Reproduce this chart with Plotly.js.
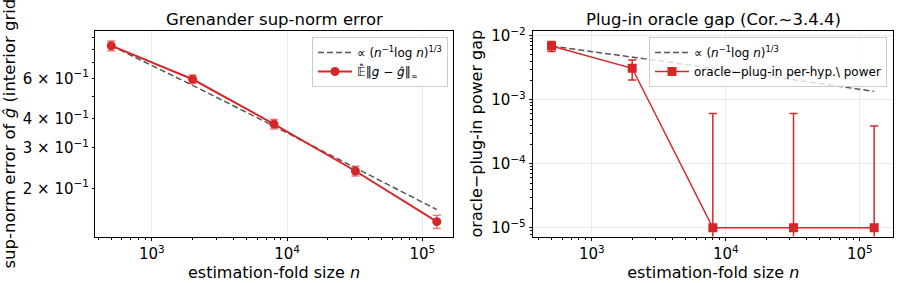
<!DOCTYPE html>
<html>
<head>
<meta charset="utf-8">
<script src="https://cdn.plot.ly/plotly-3.0.1.min.js"></script>
<style>html,body{margin:0;padding:0;background:#fff;}#chart{width:900px;height:283px;}</style>
</head>
<body>
<div id="chart"></div>
<script>
// ---- data ----
const n = [500, 2000, 8000, 32000, 128000];
const supErr = [0.830, 0.594, 0.380, 0.238, 0.1436];
const supErrSd = [0.040, 0.025, 0.018, 0.0115, 0.0095];
const supRef = [0.830, 0.559, 0.372, 0.246, 0.162];
const gap = [0.0069, 0.0031, 1e-5, 1e-5, 1e-5];
const gapSd = [0.00125, 0.00107, 0.00060, 0.00060, 0.00038];
const gapRef = [0.0069, 0.00465, 0.0031, 0.00205, 0.00135];
const xMajor = [1e3, 1e4, 1e5];
const xMajorText = ['10<sup>3</sup>', '10<sup>4</sup>', '10<sup>5</sup>'];
const y1Ticks = [0.2, 0.3, 0.4, 0.5, 0.6, 0.7, 0.8, 0.9];
const y1Text = ['2 × 10<sup>−1</sup>', '3 × 10<sup>−1</sup>', '4 × 10<sup>−1</sup>', '', '6 × 10<sup>−1</sup>', '', '', ''];
const y2Major = [1e-5, 1e-4, 1e-3, 1e-2];
const y2Text = ['10<sup>−5</sup>', '10<sup>−4</sup>', '10<sup>−3</sup>', '10<sup>−2</sup>'];
const refLabel = '∝ (<i>n</i><sup>−1</sup>log <i>n</i>)<sup>1/3</sup>';
const supLabel = '𝔼̂‖<i>g</i> − <i>ĝ</i>‖<sub>∞</sub>';
const gapLabel = 'oracle−plug-in per-hyp.\\ power';

const RED = '#d62728';
const FONT = 'DejaVu Sans, sans-serif';

// minor tick positions (2..9 x 10^k)
function minorVals(lo, hi) {
  const out = [];
  for (let e = lo; e <= hi; e++) for (let d = 2; d <= 9; d++) out.push(d * Math.pow(10, e));
  return out;
}

const traces = [
  {x: n, y: supRef, xaxis: 'x', yaxis: 'y', mode: 'lines', name: refLabel,
   line: {color: '#555555', width: 1.5, dash: '6px,3px'}, legend: 'legend'},
  {x: n, y: supErr, xaxis: 'x', yaxis: 'y', mode: 'lines+markers', name: supLabel,
   line: {color: RED, width: 2}, marker: {color: RED, size: 9, symbol: 'circle'},
   error_y: {type: 'data', array: supErrSd, visible: true, color: 'rgba(214,39,40,0.6)', thickness: 1.5, width: 4},
   legend: 'legend'},
  {x: n, y: gapRef, xaxis: 'x2', yaxis: 'y2', mode: 'lines', name: refLabel,
   line: {color: '#555555', width: 1.5, dash: '6px,3px'}, legend: 'legend2'},
  {x: n, y: gap, xaxis: 'x2', yaxis: 'y2', mode: 'lines+markers', name: gapLabel,
   line: {color: RED, width: 1.5}, marker: {color: RED, size: 9, symbol: 'square'},
   error_y: {type: 'data', array: gapSd, visible: true, color: RED, thickness: 1.5, width: 4},
   legend: 'legend2'}
];

const axCommon = {
  type: 'log', showline: true, linecolor: '#000', linewidth: 1, mirror: true,
  ticks: 'outside', ticklen: 3.5, tickwidth: 1, tickcolor: '#000',
  tickfont: {family: FONT, size: 15, color: '#000'}, zeroline: false,
  gridcolor: '#ebebeb', gridwidth: 1
};

const yTop = (283 - 30.7) / 283, yBot = (283 - 236.5) / 283;

const layout = {
  width: 900, height: 283, margin: {l: 0, r: 0, t: 0, b: 0},
  paper_bgcolor: '#fff', plot_bgcolor: '#fff',
  font: {family: FONT, color: '#000'},
  xaxis: Object.assign({}, axCommon, {
    domain: [95 / 900, 453 / 900], anchor: 'y', range: [2.579, 5.227],
    tickmode: 'array', tickvals: xMajor, ticktext: xMajorText, showgrid: true,
    minor: {tickmode: 'array', tickvals: minorVals(2, 5), ticks: 'outside', ticklen: 2, tickcolor: '#000', showgrid: false},
    title: {text: 'estimation-fold size <i>n</i>', font: {family: FONT, size: 16}, standoff: 2}
  }),
  yaxis: Object.assign({}, axCommon, {
    domain: [yBot, yTop], anchor: 'x', range: [-0.907, -0.016],
    tickmode: 'array', tickvals: y1Ticks, ticktext: y1Text, ticklen: 2, showgrid: false,
    title: {text: 'sup-norm error of <i>ĝ</i> (interior grid', font: {family: FONT, size: 16.5}, standoff: 2}
  }),
  xaxis2: Object.assign({}, axCommon, {
    domain: [533.3 / 900, 893.3 / 900], anchor: 'y2', range: [2.563, 5.25],
    tickmode: 'array', tickvals: xMajor, ticktext: xMajorText, showgrid: true,
    minor: {tickmode: 'array', tickvals: minorVals(2, 5), ticks: 'outside', ticklen: 2, tickcolor: '#000', showgrid: false},
    title: {text: 'estimation-fold size <i>n</i>', font: {family: FONT, size: 16}, standoff: 2}
  }),
  yaxis2: Object.assign({}, axCommon, {
    domain: [yBot, yTop], anchor: 'x2', range: [-5.136, -1.922],
    tickmode: 'array', tickvals: y2Major, ticktext: y2Text, showgrid: true,
    minor: {tickmode: 'array', tickvals: minorVals(-6, -2), ticks: 'outside', ticklen: 2, tickcolor: '#000', showgrid: false},
    title: {text: 'oracle−plug-in power gap', font: {family: FONT, size: 16}, standoff: 4}
  }),
  legend: {x: 448 / 900, xanchor: 'right', y: (283 - 37) / 283, yanchor: 'top',
    bgcolor: 'rgba(255,255,255,0.8)', bordercolor: '#cccccc', borderwidth: 1,
    font: {family: FONT, size: 12}, tracegroupgap: 0, itemwidth: 34},
  legend2: {x: 887 / 900, xanchor: 'right', y: (283 - 37) / 283, yanchor: 'top',
    bgcolor: 'rgba(255,255,255,0.8)', bordercolor: '#cccccc', borderwidth: 1,
    font: {family: FONT, size: 12}, tracegroupgap: 0, itemwidth: 34},
  showlegend: true,
  annotations: [
    {text: 'Grenander sup-norm error', xref: 'paper', yref: 'paper', x: 274 / 900, y: (283 - 20) / 283,
     xanchor: 'center', yanchor: 'middle', showarrow: false, font: {family: FONT, size: 16.5}},
    {text: 'Plug-in oracle gap (Cor.~3.4.4)', xref: 'paper', yref: 'paper', x: 713 / 900, y: (283 - 20) / 283,
     xanchor: 'center', yanchor: 'middle', showarrow: false, font: {family: FONT, size: 16.5}}
  ]
};

Plotly.newPlot('chart', traces, layout, {staticPlot: true, displayModeBar: false});
</script>
</body>
</html>
